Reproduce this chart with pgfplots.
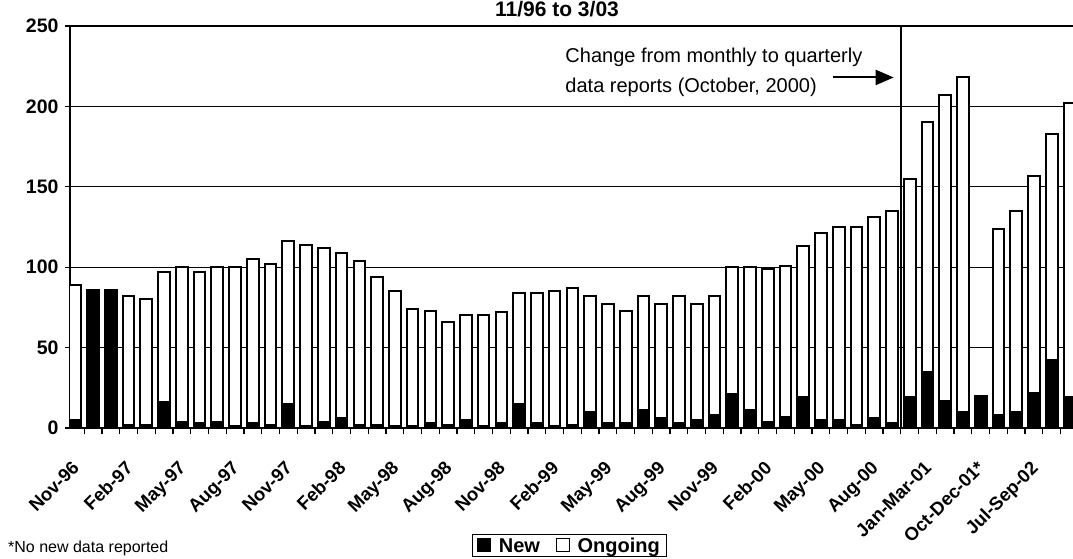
\documentclass[border=0pt]{standalone}
\usepackage{pgfplots}
\pgfplotsset{compat=1.18}
\usepackage{pgfplotstable}
\usepackage{fontspec}
\setmainfont{Liberation Sans}
\usetikzlibrary{arrows.meta}

\pgfplotstableread{
x new ongoing
0 5 84
1 86 0
2 86 0
3 2 80
4 2 78
5 16 81
6 4 96
7 3 94
8 4 96
9 1 99
10 3 102
11 2 100
12 15 101
13 1 113
14 4 108
15 6 103
16 2 102
17 2 92
18 1 84
19 1 73
20 3 70
21 2 64
22 5 65
23 1 69
24 3 69
25 15 69
26 3 81
27 1 84
28 2 85
29 10 72
30 3 74
31 3 70
32 11 71
33 6 71
34 3 79
35 5 72
36 8 74
37 21 79
38 11 89
39 4 95
40 7 94
41 19 94
42 5 116
43 5 120
44 2 123
45 6 125
46 3 132
47 19 136
48 35 155
49 17 190
50 10 208
51 20 0
52 8 116
53 10 125
54 22 135
55 42 141
56 19 183
}\datatable

\begin{document}
\begin{tikzpicture}
\useasboundingbox (0,0) rectangle (1073pt,558pt);
\begin{axis}[
  at={(70pt,130pt)}, anchor=south west,
  width=1003pt, height=402pt, scale only axis,
  ybar stacked, bar width=0.66,
  xmin=-0.3, xmax=56.2, ymin=0, ymax=250,
  ytick={0,50,...,250},
  xtick={0,3,...,54},
  xticklabels={Nov-96,Feb-97,May-97,Aug-97,Nov-97,Feb-98,May-98,Aug-98,Nov-98,Feb-99,May-99,Aug-99,Nov-99,Feb-00,May-00,Aug-00,Jan-Mar-01,Oct-Dec-01*,Jul-Sep-02},
  minor xtick={0.5,1.5,...,56.5},
  axis x line*=bottom, axis y line*=left,
  ymajorgrids, grid style={black, line width=1.1pt},
  tick align=outside, major tick length=5pt, minor tick length=6pt,
  major x tick style={draw=none},
  minor x tick style={black, line width=1.3pt},
  y tick style={black, line width=1.3pt},
  axis line style={line width=1.8pt},
  /pgf/number format/assume math mode=true,
  xticklabel style={rotate=45, anchor=north east, inner sep=1pt, xshift=-21pt, yshift=-15pt, font=\bfseries\fontsize{18.5}{20}\selectfont},
  yticklabel style={font=\bfseries\fontsize{19.5}{21}\selectfont, xshift=-3pt},
  legend image code/.code={\draw[#1, line width=1.3pt] (0pt,-6pt) rectangle (13pt,7pt); \path (18pt,0pt);},
  legend style={at={(0.498,-0.322)}, anchor=south, legend columns=2, draw=black, line width=1.3pt,
    font=\bfseries\fontsize{20}{21}\selectfont, inner sep=1pt, inner xsep=5pt,
    /tikz/every even column/.append style={column sep=14pt}},
]
\addplot[fill=black, draw=black, line width=2pt] table[x=x,y=new]{\datatable};
\addlegendentry{New\strut}
\addplot[fill=white, draw=black, line width=2pt] table[x=x,y=ongoing]{\datatable};
\addlegendentry{Ongoing\strut}
\draw[line width=1.6pt] (axis cs:46.5,0) -- (axis cs:46.5,250);
\node[anchor=base west, inner sep=0pt, font=\fontsize{20}{22}\selectfont] at (axis cs:27.6,227) {Change from monthly to quarterly};
\node[anchor=base west, inner sep=0pt, font=\fontsize{20}{22}\selectfont] at (axis cs:27.6,208.5) {data reports (October, 2000)};
\draw[line width=2pt, -{Triangle[length=18pt,width=15pt]}] (axis cs:42.7,218) -- (axis cs:46.1,218);
\end{axis}
\node[anchor=north, inner sep=0pt, font=\bfseries\fontsize{21}{23}\selectfont] at (557pt,557pt) {11/96 to 3/03};
\node[anchor=north west, inner sep=0pt, font=\fontsize{16}{18}\selectfont] at (8pt,17pt) {*No new data reported};
\end{tikzpicture}
\end{document}
